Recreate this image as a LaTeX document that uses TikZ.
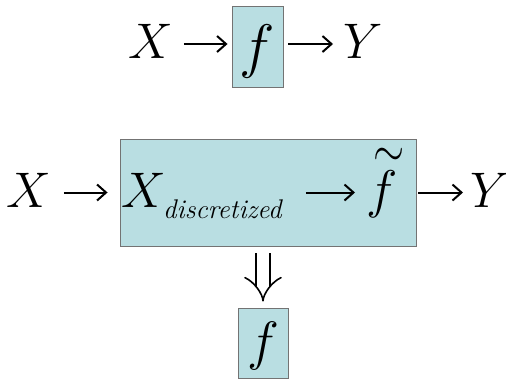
\documentclass[tikz,border=0pt]{standalone}
\usepackage{fix-cm}
\usetikzlibrary{arrows.meta}
\definecolor{boxfill}{RGB}{185,222,226}
\tikzset{
  var/.style = {inner sep=0pt, anchor=base west, font=\fontsize{50}{56}\selectfont},
  sub/.style = {inner sep=0pt, anchor=base west, font=\fontsize{27}{30}\selectfont\itshape},
  blk/.style = {draw=black!55, fill=boxfill, line width=0.9pt, inner sep=0pt},
  arrow/.style = {line width=2pt, -{Straight Barb[length=9pt,width=16pt,line width=2pt]}},
  implies/.style = {double, double distance=12pt, line width=1.6pt, -{Implies}}
}

\begin{document}
\begin{tikzpicture}[x=1pt, y=-1pt]
            \useasboundingbox (0,0) rectangle (506,381);
            % top row
            \node[blk, minimum width=51pt, minimum height=81pt] (fbox) at (257.5,46.5) {};
            \node[var] (x1) at (128,58) {$X$};
            \node[var, anchor=base, font=\fontsize{60}{66}\selectfont] (f1) at (257.5,66) {$f$};
            \node[var] (y1) at (343,58) {$Y$};
            \draw[arrow, shorten <=11pt, shorten >=4pt] ([yshift=2.5pt]fbox.west -| x1.east) -- ([yshift=2.5pt]fbox.west);
            \draw[arrow, shorten <=5pt, shorten >=10pt] ([yshift=2.5pt]fbox.east) -- ([yshift=2.5pt]fbox.east -| y1.west);
            % bottom row
            \node[blk, minimum width=296pt, minimum height=107pt] (big) at (268,192.5) {};
            \node[var] (x2) at (6,207) {$X$};
            \node[var] (xd) at (121,207) {$X$};
            \node[sub] (dis) at (163,218) {discretized};
            \node[var, font=\fontsize{53}{58}\selectfont] (ft) at (366,207) {$f$};
            \node[inner sep=0pt, font=\fontsize{40}{42}\selectfont] (tl) at (389,157.5) {\scalebox{1}[1.25]{$\sim$}};
            \node[var] (y2) at (470,207) {$Y$};
            \draw[arrow, shorten <=13pt, shorten >=12pt] (big.west -| x2.east) -- (big.west);
            \draw[arrow, shorten <=24pt, shorten >=11pt] (big.center -| dis.east) -- (big.center -| ft.west);
            \draw[arrow, shorten <=2pt, shorten >=7pt] (big.east) -- (big.east -| y2.west);
            % result
            \node[blk, minimum width=50pt, minimum height=70pt] (fbox2) at (263,343) {};
            \node[var, anchor=base, font=\fontsize{54}{60}\selectfont] (f2) at (263,359.5) {$f$};
            \draw[implies, shorten <=7pt, shorten >=6pt] (big.south -| fbox2.north) -- (fbox2.north);
\end{tikzpicture}
\end{document}
